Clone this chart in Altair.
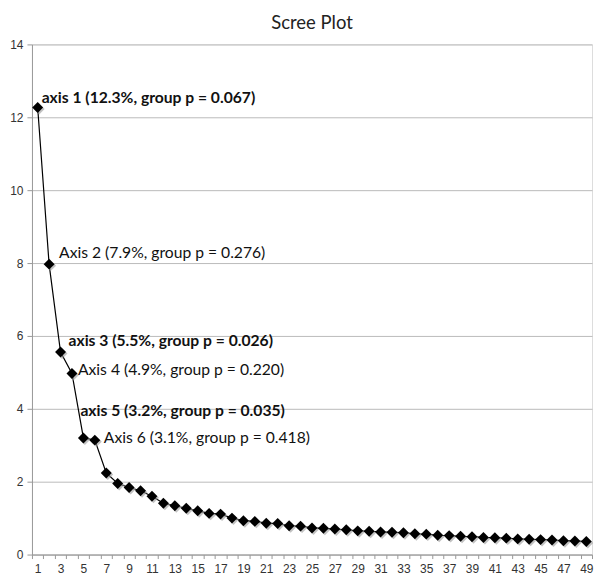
import altair as alt
import pandas as pd

components = list(range(1, 50))
eigenvalues = [12.27, 7.97, 5.56, 4.97, 3.20, 3.14, 2.24, 1.95, 1.84, 1.75,
               1.60, 1.41, 1.34, 1.27, 1.20, 1.13, 1.11, 1.00, 0.93, 0.91,
               0.86, 0.85, 0.79, 0.78, 0.73, 0.72, 0.70, 0.68, 0.65, 0.64,
               0.62, 0.61, 0.60, 0.57, 0.56, 0.53, 0.52, 0.50, 0.49, 0.47,
               0.46, 0.45, 0.43, 0.42, 0.41, 0.40, 0.38, 0.37, 0.36]

label_texts = [
    "axis 1 (12.3%, group p = 0.067)",
    "Axis 2 (7.9%, group p = 0.276)",
    "axis 3 (5.5%, group p = 0.026)",
    "Axis 4 (4.9%, group p = 0.220)",
    "axis 5 (3.2%, group p = 0.035)",
    "Axis 6 (3.1%, group p = 0.418)",
]
label_bold = [True, False, True, False, True, False]

y_ticks = list(range(0, 15, 2))
x_labels = list(range(1, 50, 2))
x_tick_marks = [i + 0.5 for i in range(0, 50)]

df = pd.DataFrame({"comp": components, "eig": eigenvalues})

W, H = 561, 511
x_scale = alt.Scale(domain=[0.5, 49.5], nice=False, zero=False)

x_tick_axis = alt.X(
    "comp:Q", scale=x_scale,
    axis=alt.Axis(
        orient="bottom", values=x_tick_marks, labels=False, grid=False,
        tickSize=4, tickColor="#999999", domainColor="#999999", title=None,
    ),
)
x_label_axis = alt.X(
    "comp:Q", scale=x_scale,
    axis=alt.Axis(
        orient="bottom", values=x_labels, ticks=False, tickSize=0, domain=False,
        grid=False, labelOverlap=False, labelFlush=False,
        labelFont="Liberation Sans", labelFontSize=12, labelColor="#333333",
        labelPadding=9, title=None,
    ),
)
x_plain = alt.X("comp:Q", scale=x_scale, axis=None)
y_enc = alt.Y(
    "eig:Q",
    scale=alt.Scale(domain=[0, 14], nice=False),
    axis=alt.Axis(
        values=y_ticks,
        grid=True,
        gridColor="#bbbbbb",
        tickSize=5,
        tickColor="#999999",
        domainColor="#999999",
        labelFont="Liberation Sans",
        labelFontSize=12,
        labelColor="#333333",
        labelPadding=4,
        title=None,
    ),
)

base = alt.Chart(df)
line = base.mark_line(color="black", strokeWidth=1.2).encode(x=x_tick_axis, y=y_enc)
shadow = base.mark_point(shape="diamond", filled=True, color="#999999", size=120,
                         opacity=0.6, xOffset=1.5, yOffset=1.5).encode(x=x_label_axis, y="eig:Q")
points = base.mark_point(shape="diamond", filled=True, color="black", size=120,
                         opacity=1).encode(x=x_plain, y="eig:Q")

offsets = [(4, -9), (10, -11), (8, -11), (6, -3), (-3, -27), (9, -2)]
label_layers = []
for i, (txt, bold) in enumerate(zip(label_texts, label_bold)):
    ldf = pd.DataFrame({"comp": [components[i]], "eig": [eigenvalues[i]], "txt": [txt]})
    dx, dy = offsets[i]
    label_layers.append(
        alt.Chart(ldf).mark_text(
            align="left", baseline="middle", dx=dx, dy=dy,
            font="Lato", fontSize=15.7, fontWeight="bold" if bold else "normal",
            color="#111111",
        ).encode(x=x_plain, y="eig:Q", text="txt:N")
    )

chart = alt.layer(line, shadow, points, *label_layers).resolve_axis(
    x="independent"
).properties(
    width=W, height=H,
    title=alt.TitleParams("Scree Plot", font="Lato", fontSize=18.5, fontWeight="normal",
                          color="#222222", anchor="middle", offset=6),
    autosize=alt.AutoSizeParams(type="none"),
    padding={"left": 24, "top": 36, "right": 4, "bottom": 20},
).configure_view(stroke="#333333", strokeWidth=1.5).configure(background="white")

chart.save("out.html", embed_options={"renderer": "svg", "actions": False})
